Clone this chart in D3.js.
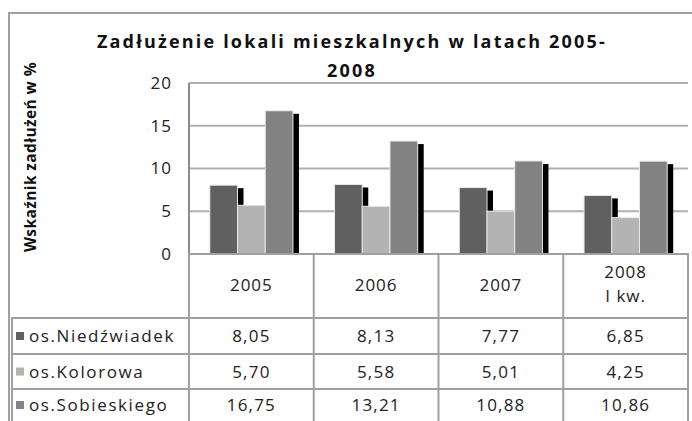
<!DOCTYPE html>
<html>
<head>
<meta charset="utf-8">
<script src="https://cdn.jsdelivr.net/npm/d3@7"></script>
<style>
  body { margin: 0; background: #fff; }
  svg { display: block; font-family: "Open Sans", sans-serif; }
</style>
</head>
<body>
<script>
// data
var categories = ["2005", "2006", "2007", "2008"];
var categorySub = ["", "", "", "I kw."];
var seriesNames = ["os.Niedźwiadek", "os.Kolorowa", "os.Sobieskiego"];
var niedzwiadek = [8.05, 8.13, 7.77, 6.85];
var kolorowa = [5.70, 5.58, 5.01, 4.25];
var sobieskiego = [16.75, 13.21, 10.88, 10.86];
var yTicks = [0, 5, 10, 15, 20];

var seriesValues = [niedzwiadek, kolorowa, sobieskiego];
var colors = ["#606060", "#b3b3b3", "#828282"];

var width = 692, height = 421;
var plotLeft = 189, plotRight = 688, plotTop = 83, plotBottom = 254;
var rowLines = [254, 318, 354, 389, 421];

var svg = d3.select("body")
    .append("svg")
    .attr("width", width)
    .attr("height", height);

var plPL = d3.formatLocale({decimal: ",", thousands: " ", grouping: [3], currency: ["", " zł"]});
var fmt = plPL.format(".2f");

var x = d3.scaleBand()
    .domain(categories)
    .range([plotLeft, plotRight])
    .padding(0);

var x1 = d3.scaleBand()
    .domain(seriesNames)
    .range([0, x.bandwidth()])
    .paddingInner(0)
    .paddingOuter(0.75);

var y = d3.scaleLinear()
    .domain([0, 20])
    .range([plotBottom, plotTop]);

// outer chart border
svg.append("path")
    .attr("d", "M9,421 V13 H692")
    .attr("fill", "none")
    .attr("stroke", "#a0a0a0")
    .attr("stroke-width", 2);

// gridlines
svg.append("g")
    .selectAll("line")
    .data(yTicks.filter(function (d) { return d > 0; }))
    .enter()
    .append("line")
    .attr("x1", plotLeft)
    .attr("x2", plotRight)
    .attr("y1", function (d) { return y(d); })
    .attr("y2", function (d) { return y(d); })
    .attr("stroke", "#b0b0b0")
    .attr("stroke-width", 2);

// y axis labels
var yAxis = svg.append("g")
    .attr("transform", "translate(" + plotLeft + ",0)")
    .call(d3.axisLeft(y).tickValues(yTicks).tickSize(0).tickPadding(17));
yAxis.select(".domain").remove();
yAxis.selectAll("text")
    .attr("font-family", "Open Sans, sans-serif")
    .attr("font-size", 17)
    .attr("letter-spacing", 1)
    .attr("fill", "#222");

// bars with the black shadow behind each one
var groups = svg.append("g")
    .selectAll("g")
    .data(categories)
    .enter()
    .append("g")
    .attr("transform", function (d) { return "translate(" + x(d) + ",0)"; });

groups.each(function (cat, ci) {
    var g = d3.select(this);
    seriesNames.forEach(function (name, si) {
        var v = seriesValues[si][ci];
        var bx = x1(name);
        var bw = x1.bandwidth();
        g.append("rect")
            .attr("x", bx + 6)
            .attr("y", y(v) + 3)
            .attr("width", bw)
            .attr("height", plotBottom - y(v) - 3)
            .attr("fill", "#000");
        g.append("rect")
            .attr("x", bx)
            .attr("y", y(v))
            .attr("width", bw)
            .attr("height", plotBottom - y(v))
            .attr("fill", colors[si])
            .attr("stroke", "#e8e8e8")
            .attr("stroke-width", 1);
    });
});

// axis lines
svg.append("line")
    .attr("x1", plotLeft).attr("x2", plotLeft)
    .attr("y1", plotTop).attr("y2", plotBottom)
    .attr("stroke", "#8c8c8c").attr("stroke-width", 2);

// data table
var table = svg.append("g")
    .attr("stroke", "#a0a0a0")
    .attr("stroke-width", 2);

table.append("line")
    .attr("x1", plotLeft - 1).attr("x2", plotRight + 1)
    .attr("y1", plotBottom).attr("y2", plotBottom);

table.selectAll(".hrow")
    .data(rowLines.slice(1, 4))
    .enter()
    .append("line")
    .attr("class", "hrow")
    .attr("x1", 11).attr("x2", plotRight + 1)
    .attr("y1", function (d) { return d; })
    .attr("y2", function (d) { return d; });

table.selectAll(".vcol")
    .data(categories.map(function (c) { return x(c); }).concat([plotRight]))
    .enter()
    .append("line")
    .attr("class", "vcol")
    .attr("x1", function (d) { return d; })
    .attr("x2", function (d) { return d; })
    .attr("y1", plotBottom)
    .attr("y2", height);

table.append("line")
    .attr("x1", 12).attr("x2", 12)
    .attr("y1", rowLines[1]).attr("y2", height);

// header row: categories
var header = svg.append("g")
    .selectAll("text")
    .data(categories)
    .enter()
    .append("text")
    .attr("x", function (d) { return x(d) + x.bandwidth() / 2; })
    .attr("text-anchor", "middle")
    .attr("font-size", 17)
    .attr("letter-spacing", 1)
    .attr("fill", "#222");

header.each(function (d, i) {
    var t = d3.select(this);
    if (categorySub[i]) {
        t.append("tspan").attr("x", x(d) + x.bandwidth() / 2).attr("y", 278).text(d);
        t.append("tspan").attr("x", x(d) + x.bandwidth() / 2).attr("y", 302).text(categorySub[i]);
    } else {
        t.attr("y", 291).text(d);
    }
});

// series rows
seriesNames.forEach(function (name, si) {
    var top = rowLines[si + 1], bottom = rowLines[si + 2];
    var mid = (top + bottom) / 2;
    svg.append("rect")
        .attr("x", 16).attr("y", mid - 4)
        .attr("width", 8).attr("height", 8)
        .attr("fill", colors[si]);
    svg.append("text")
        .attr("x", 29).attr("y", mid + 6)
        .attr("font-size", 17)
        .attr("letter-spacing", 1.6)
        .attr("fill", "#222")
        .text(name);
    svg.append("g")
        .selectAll("text")
        .data(seriesValues[si])
        .enter()
        .append("text")
        .attr("x", function (d, ci) { return x(categories[ci]) + x.bandwidth() / 2; })
        .attr("y", mid + 6)
        .attr("text-anchor", "middle")
        .attr("font-size", 17)
        .attr("letter-spacing", 1.2)
        .attr("fill", "#222")
        .text(function (d) { return fmt(d); });
});

// title
var title = svg.append("text")
    .attr("text-anchor", "middle")
    .attr("font-size", 18)
    .attr("font-weight", "bold")
    .attr("letter-spacing", 2.2)
    .attr("fill", "#111");
title.append("tspan").attr("x", 352).attr("y", 48).text("Zadłużenie lokali mieszkalnych w latach 2005-");
title.append("tspan").attr("x", 352).attr("y", 77).text("2008");

// y axis title
svg.append("text")
    .attr("transform", "translate(36,157) rotate(-90)")
    .attr("text-anchor", "middle")
    .attr("font-size", 15.5)
    .attr("font-weight", "bold")
    .attr("letter-spacing", 0.4)
    .attr("fill", "#111")
    .text("Wskaźnik zadłużeń w %");
</script>
</body>
</html>
